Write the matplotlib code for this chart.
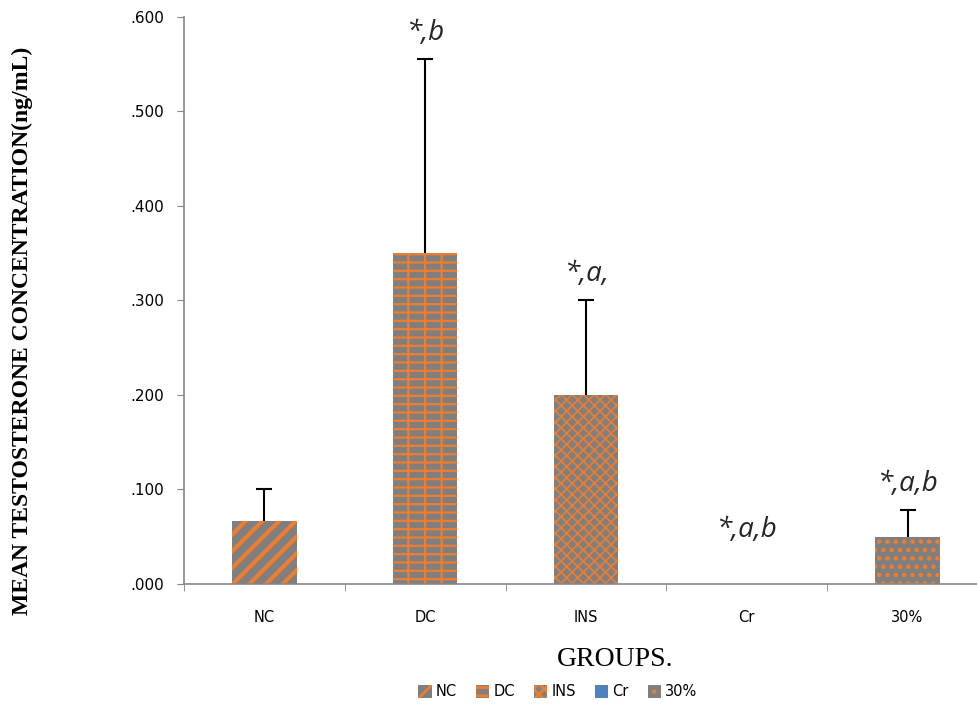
import matplotlib
matplotlib.use("Agg")
import matplotlib.pyplot as plt
import numpy as np

groups = ["NC", "DC", "INS", "Cr", "30%"]
means = [0.067, 0.350, 0.200, 0.000, 0.050]
errs = [0.033, 0.205, 0.100, 0.000, 0.028]
marks = ["", "*,b", "*,a,", "*,a,b", "*,a,b"]
yticks = [0.0, 0.1, 0.2, 0.3, 0.4, 0.5, 0.6]

orange = "#ED7D31"
gray = "#7F7F7F"
face = [gray, gray, gray, "#4F81BD", gray]
hatches = ["//", "--|", "xxx", "", ".."]
hatch_lw = [3.0, 1.6, 1.2, 1.0, 2.0]

plt.rcParams["font.family"] = "DejaVu Sans"

fig = plt.figure(figsize=(9.77, 7.04), dpi=100)
# the plot area runs a little past the right edge of the picture
ax = fig.add_axes([0.1883, 0.1705, 0.8229, 0.8054])

x = np.arange(len(groups))
bars = []
for i in range(len(groups)):
    plt.rcParams["hatch.linewidth"] = hatch_lw[i]
    b = ax.bar(x[i], means[i], width=0.40, color=face[i], edgecolor=orange,
               linewidth=0, hatch=hatches[i], label=groups[i])
    bars.append(b)
    if errs[i] > 0:
        eb = ax.errorbar(x[i], means[i], yerr=[[0], [errs[i]]], fmt="none",
                         ecolor="black", elinewidth=1.5, capsize=6, capthick=1.5)
        # only keep the upper cap
        eb[1][0].set_visible(False)

for i, m in enumerate(marks):
    if m:
        top = max(means[i] + errs[i] + 0.013, 0.042)
        ax.text(x[i], top, m, ha="center", va="bottom", style="italic",
                fontsize=20, family="Open Sans", color="#262626")

ax.set_xlim(-0.5, len(groups) - 0.5)
ax.set_ylim(0, 0.6)
ax.set_yticks(yticks)
ax.set_yticklabels(["." + "{:.3f}".format(v).split(".")[1] for v in yticks], fontsize=11)
ax.set_xticks(x)
ax.set_xticklabels(groups, fontsize=10.5)
ax.set_xticks(np.arange(len(groups) + 1) - 0.5, minor=True)
ax.tick_params(axis="x", which="major", length=0, pad=19)
ax.tick_params(axis="x", which="minor", length=5, color="#868686", direction="out")
ax.tick_params(axis="y", length=5, color="#868686", direction="out", pad=9)

for s in ["top", "right"]:
    ax.spines[s].set_visible(False)
for s in ["left", "bottom"]:
    ax.spines[s].set_color("#868686")
    ax.spines[s].set_linewidth(1.2)

fig.text(615 / 977, 1 - 660 / 704, "GROUPS.", ha="center", va="center",
         family="Liberation Serif", fontsize=20)
fig.text(22 / 977, 1 - 331 / 704, "MEAN TESTOSTERONE CONCENTRATION(ng/mL)",
         rotation=90, ha="center", va="center", family="Liberation Serif",
         fontweight="bold", fontsize=17)

fig.legend(handles=[b[0] for b in bars], labels=groups, loc="center",
           bbox_to_anchor=(558 / 977, 1 - 692 / 704), ncol=5, frameon=False,
           fontsize=10.5, handlelength=0.9, handleheight=0.9, handletextpad=0.3,
           columnspacing=1.3)

fig.savefig("out.png", dpi=100)
